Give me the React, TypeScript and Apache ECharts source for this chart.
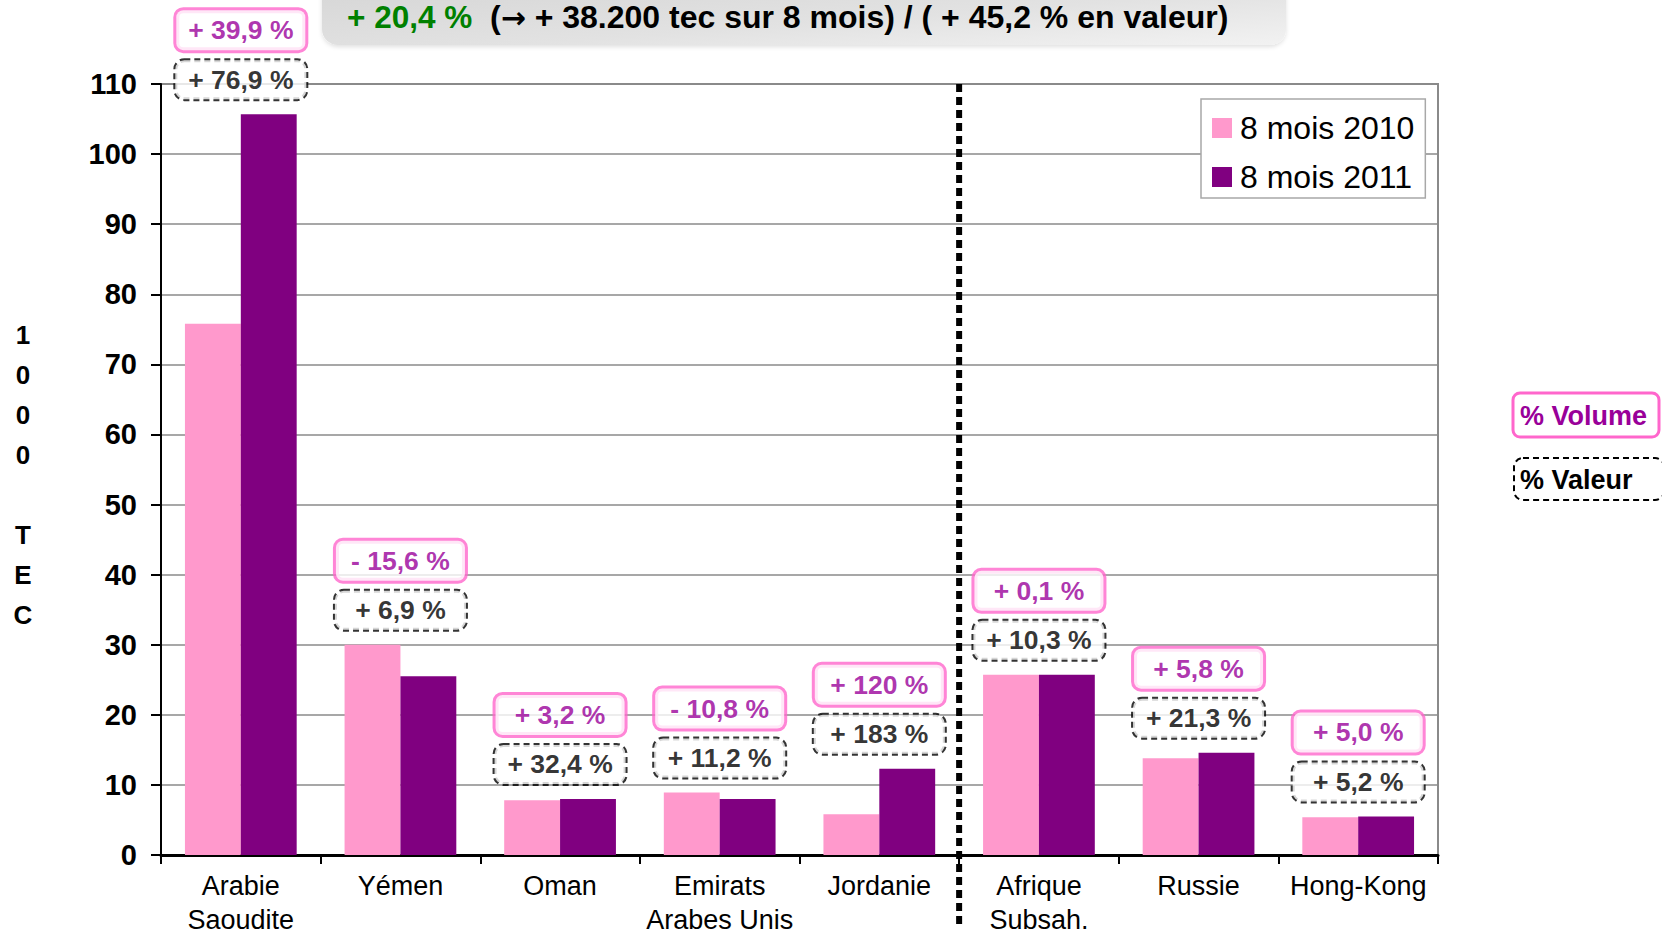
import React, { useEffect, useRef } from "react";
import * as echarts from "echarts";

const categories = [
  "Arabie\nSaoudite",
  "Yémen",
  "Oman",
  "Emirats\nArabes Unis",
  "Jordanie",
  "Afrique\nSubsah.",
  "Russie",
  "Hong-Kong",
];
const seriesNames = ["8 mois 2010", "8 mois 2011"];
const values2010 = [75.8, 30.0, 7.8, 8.9, 5.8, 25.7, 13.8, 5.4];
const values2011 = [105.7, 25.5, 8.0, 8.0, 12.3, 25.7, 14.6, 5.5];
const volumePct = ["+ 39,9 %", "- 15,6 %", "+ 3,2 %", "- 10,8 %", "+ 120 %", "+ 0,1 %", "+ 5,8 %", "+ 5,0 %"];
const valuePct = ["+ 76,9 %", "+ 6,9 %", "+ 32,4 %", "+ 11,2 %", "+ 183 %", "+ 10,3 %", "+ 21,3 %", "+ 5,2 %"];
const yTicks = { min: 0, max: 110, interval: 10 };
const titleGreen = "+ 20,4 %";
const titleOpen = "  (";
const titleArrow = "→";
const titleRest = " + 38.200 tec sur 8 mois) / ( + 45,2 % en valeur)";
const yName = ["1", "0", "0", "0", "", "T", "E", "C"];

const FONT = "'Liberation Sans', Arial, sans-serif";
const PINK = "#FF99CC";
const PURPLE = "#800080";
const PINK_BORDER = "#FF66CC";
const PURPLE_TEXT = "#990099";

export default function App() {
  const ref = useRef<HTMLDivElement>(null);
  useEffect(() => {
    document.body.style.margin = "0";
    const chart = echarts.init(ref.current!, null, { renderer: "svg" });
    const tops = categories.map((c, i) => [c, Math.max(values2010[i], values2011[i])]);
    const option: any = {
      animation: false,
      textStyle: { fontFamily: FONT },
      grid: {
        left: 161,
        right: 224,
        top: 84,
        bottom: 78,
        show: true,
        borderColor: "#8a8a8a",
        borderWidth: 2,
        backgroundColor: "transparent",
      },
      legend: {
        data: seriesNames,
        orient: "vertical",
        left: 1201,
        top: 99,
        icon: "rect",
        itemWidth: 20,
        itemHeight: 20,
        itemGap: 17,
        padding: [13, 11, 5, 11],
        backgroundColor: "#fff",
        borderColor: "#a8a8a8",
        borderWidth: 1.5,
        borderRadius: 0,
        textStyle: { fontSize: 32, color: "#000", fontFamily: FONT, padding: [0, 0, 0, 3] },
      },
      xAxis: {
        type: "category",
        data: categories,
        axisLine: { lineStyle: { color: "#000", width: 3 } },
        axisTick: { show: true, length: 9, lineStyle: { color: "#000", width: 2 } },
        axisLabel: { fontSize: 27, color: "#000", lineHeight: 34, margin: 14, fontFamily: FONT, interval: 0 },
        splitLine: { show: false },
      },
      yAxis: {
        type: "value",
        min: yTicks.min,
        max: yTicks.max,
        interval: yTicks.interval,
        axisLine: { show: true, lineStyle: { color: "#000", width: 2 } },
        axisTick: { show: true, length: 10, lineStyle: { color: "#000", width: 2 } },
        axisLabel: { fontSize: 29, fontWeight: "bold", color: "#000", margin: 24, fontFamily: FONT },
        splitLine: { lineStyle: { color: "#8a8a8a", width: 1.5 } },
      },
      series: [
        {
          name: seriesNames[0],
          type: "bar",
          data: values2010,
          barGap: "0%",
          barCategoryGap: "30%",
          itemStyle: { color: PINK },
        },
        {
          name: seriesNames[1],
          type: "bar",
          data: values2011,
          barGap: "0%",
          barCategoryGap: "30%",
          itemStyle: { color: PURPLE },
        },
        {
          name: "valeur",
          type: "scatter",
          data: tops,
          symbolSize: 0,
          silent: true,
          z: 10,
          itemStyle: { color: "transparent" },
          label: {
            show: true,
            position: "top",
            distance: 15,
            formatter: (p: any) => valuePct[p.dataIndex],
            fontSize: 26.5,
            fontWeight: "bold",
            color: "#000",
            fontFamily: FONT,
            width: 125,
            align: "center",
            lineHeight: 33,
            padding: [3, 3],
            backgroundColor: "#fff",
            borderColor: "#000",
            borderWidth: 2,
            borderType: [6, 4],
            borderRadius: 9,
          },
        },
        {
          name: "volume",
          type: "scatter",
          data: tops,
          symbolSize: 0,
          silent: true,
          z: 10,
          itemStyle: { color: "transparent" },
          label: {
            show: true,
            position: "top",
            distance: 64,
            formatter: (p: any) => volumePct[p.dataIndex],
            fontSize: 26.5,
            fontWeight: "bold",
            color: PURPLE_TEXT,
            fontFamily: FONT,
            width: 123,
            align: "center",
            lineHeight: 34,
            padding: [3, 3],
            backgroundColor: "#fff",
            borderColor: PINK_BORDER,
            borderWidth: 3,
            borderRadius: 7,
          },
        },
      ],
    };
    chart.setOption(option);

    const x4 = chart.convertToPixel({ xAxisIndex: 0 }, categories[4]) as number;
    const x5 = chart.convertToPixel({ xAxisIndex: 0 }, categories[5]) as number;
    const sepX = (x4 + x5) / 2;
    const yTop = chart.convertToPixel({ yAxisIndex: 0 }, yTicks.max) as number;

    chart.setOption({
      graphic: [
        {
          type: "rect",
          shape: { x: 322, y: -25, width: 964, height: 70, r: 16 },
          style: {
            fill: new echarts.graphic.LinearGradient(0, 0, 1, 1, [
              { offset: 0, color: "#d4d4d4" },
              { offset: 0.6, color: "#e2e2e2" },
              { offset: 1, color: "#f2f2f2" },
            ]),
            shadowBlur: 4,
            shadowColor: "rgba(0,0,0,0.12)",
            shadowOffsetY: 2,
          },
          z: 1,
        },
        {
          type: "text",
          x: 347,
          y: 17,
          z: 2,
          style: {
            text: `{g|${titleGreen}}{b|${titleOpen}}{a|${titleArrow}}{b|${titleRest}}`,
            verticalAlign: "middle",
            align: "left",
            rich: {
              g: { fontSize: 31.5, lineHeight: 30, fontWeight: "bold", fill: "#008000", fontFamily: FONT },
              b: { fontSize: 32, lineHeight: 30, fontWeight: "bold", fill: "#000", fontFamily: FONT },
              a: { fontSize: 30, lineHeight: 30, fontWeight: "bold", fill: "#000", fontFamily: "'DejaVu Sans', sans-serif" },
            },
          },
        },
        {
          type: "text",
          x: 23,
          y: 475,
          style: {
            text: yName.join("\n"),
            fontSize: 26,
            fontWeight: "bold",
            fontFamily: FONT,
            lineHeight: 40,
            fill: "#000",
            align: "center",
            verticalAlign: "middle",
          },
        },
        {
          type: "line",
          z: 20,
          shape: { x1: sepX, y1: yTop, x2: sepX, y2: 925 },
          style: { stroke: "#000", lineWidth: 6, lineDash: [8, 5] },
        },
        {
          type: "rect",
          shape: { x: 1513, y: 393, width: 146, height: 44, r: 7 },
          style: { fill: "#fff", stroke: PINK_BORDER, lineWidth: 3 },
        },
        {
          type: "text",
          x: 1520,
          y: 416,
          style: {
            text: "% Volume",
            fontSize: 27,
            fontWeight: "bold",
            fontFamily: FONT,
            fill: PURPLE_TEXT,
            verticalAlign: "middle",
          },
        },
        {
          type: "rect",
          shape: { x: 1514, y: 458, width: 150, height: 42, r: 9 },
          style: { fill: "#fff", stroke: "#000", lineWidth: 2, lineDash: [6, 4] },
        },
        {
          type: "text",
          x: 1520,
          y: 480,
          style: {
            text: "% Valeur",
            fontSize: 27,
            fontWeight: "bold",
            fontFamily: FONT,
            fill: "#000",
            verticalAlign: "middle",
          },
        },
      ],
    });

    return () => chart.dispose();
  }, []);
  return (
    <div
      ref={ref}
      style={{ position: "absolute", left: 0, top: 0, width: 1662, height: 937, background: "#fff" }}
    />
  );
}
